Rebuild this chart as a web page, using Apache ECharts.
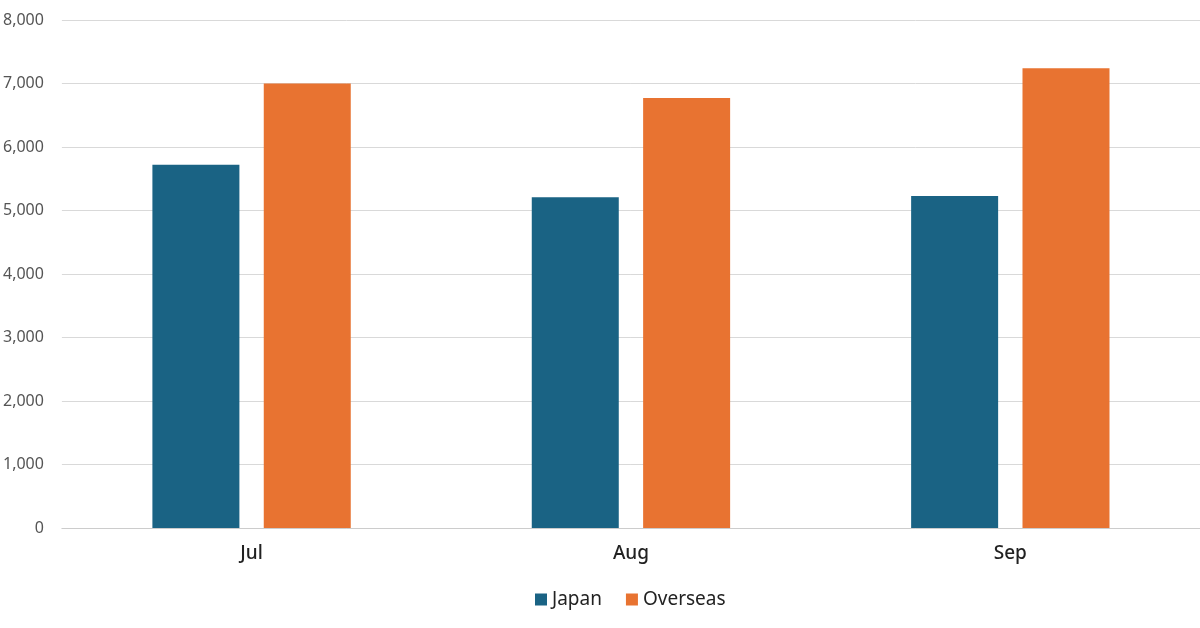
<!DOCTYPE html>
<html>
<head>
<meta charset="utf-8">
<script src="https://cdn.jsdelivr.net/npm/echarts@6/dist/echarts.min.js"></script>
<style>html,body{margin:0;padding:0;background:#fff}#main{width:1200px;height:628px}</style>
</head>
<body>
<div id="main"></div>
<script>
var months = ["Jul", "Aug", "Sep"];
var japan = [5720, 5210, 5230];
var overseas = [7000, 6770, 7240];

var chart = echarts.init(document.getElementById("main"));
chart.setOption({
  animation: false,
  grid: { left: 49, right: -16, top: 20, bottom: 100 },
  legend: {
    bottom: 14, left: 530, itemWidth: 12, itemHeight: 12, itemGap: 24,
    icon: "rect",
    textStyle: { fontFamily: "Noto Sans", fontSize: 19, color: "#222" },
    data: ["Japan", "Overseas"]
  },
  xAxis: {
    type: "category", data: months,
    axisTick: { show: false },
    axisLine: { lineStyle: { color: "#ccc" } },
    axisLabel: { fontFamily: "Noto Sans", fontSize: 19, fontWeight: 500, color: "#222", margin: 16 }
  },
  yAxis: {
    type: "value", min: 0, max: 8000, interval: 1000,
    axisLabel: {
      fontFamily: "Noto Sans", fontSize: 16, color: "#555", margin: 18,
      formatter: function (v) { return v.toLocaleString("en-US"); }
    },
    splitLine: { lineStyle: { color: "#d9d9d9" } }
  },
  series: [
    { name: "Japan", type: "bar", data: japan, barWidth: 87, barGap: "28%", itemStyle: { color: "#1a6384" } },
    { name: "Overseas", type: "bar", data: overseas, barWidth: 87, itemStyle: { color: "#e87331" } }
  ]
});
</script>
</body>
</html>
